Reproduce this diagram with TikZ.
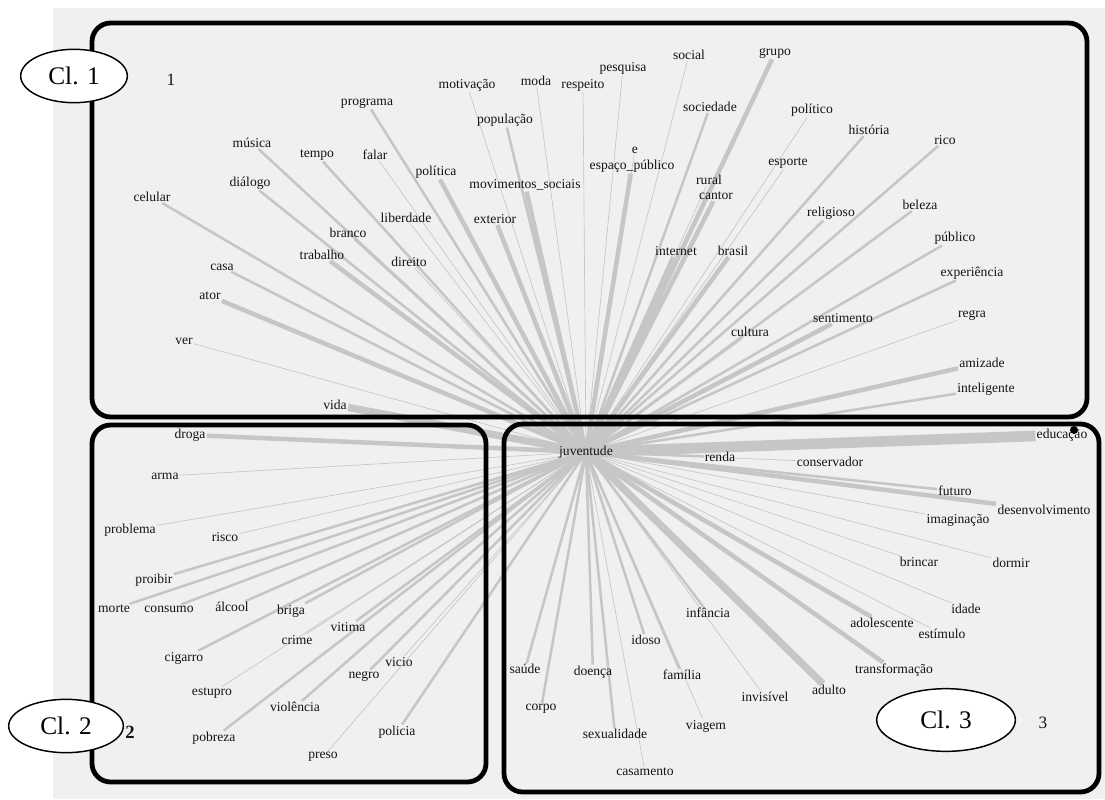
\documentclass[tikz,border=0pt]{standalone}
\usepackage{fontspec}
\setmainfont{Liberation Serif}
\usetikzlibrary{shapes.geometric}
\definecolor{panelgrey}{HTML}{F0F0F0}
\definecolor{linkgrey}{HTML}{C6C6C6}
\definecolor{wordink}{HTML}{141414}
\pgfdeclarelayer{back}
\pgfdeclarelayer{links}
\pgfsetlayers{back,links,main}

\begin{document}
\begin{tikzpicture}[
  x=0.75pt,
  y=-0.75pt,
  word/.style={font=\fontsize{10.2}{12}\selectfont, text=wordink, inner sep=0.8pt},
  faint link/.style={linkgrey, line width=0.5pt},
  mid link/.style={linkgrey, line width=1.9pt},
  heavy link/.style={linkgrey, line width=3.4pt},
  huge link/.style={linkgrey, line width=5.5pt},
  cluster/.style={black, line width=3.6pt, rounded corners=14pt},
  tag/.style={ellipse, draw=black, line width=1.1pt, fill=white, inner sep=0pt,
    font=\fontsize{19}{21}\selectfont},
  clnum/.style={font=\fontsize{13}{15}\selectfont, text=wordink}
]
  \useasboundingbox (0,0) rectangle (1105,799);
  \begin{pgfonlayer}{back}
    \fill[panelgrey] (53,8) rectangle (1105,799);
  \end{pgfonlayer}

  % ---- hub -------------------------------------------------------------
  \node[word] (juv) at (586,452) {juventude};

  % ---- cluster 1 words -------------------------------------------------
  \node[word] (programa) at (367,103) {programa};
  \node[word] (motivacao) at (467,85) {motivação};
  \node[word] (moda) at (536,81) {moda};
  \node[word] (respeito) at (583,85) {respeito};
  \node[word] (pesquisa) at (623,68) {pesquisa};
  \node[word] (social) at (689,55) {social};
  \node[word] (grupo) at (775,53) {grupo};
  \node[word] (populacao) at (505,120) {população};
  \node[word] (sociedade) at (710,107) {sociedade};
  \node[word] (politico) at (812,110) {político};
  \node[word] (historia) at (869,130) {história};
  \node[word] (rico) at (945,140) {rico};
  \node[word] (musica) at (252,143) {música};
  \node[word] (tempo) at (317,155) {tempo};
  \node[word] (falar) at (375,155) {falar};
  \node[word] (politica) at (436,172) {política};
  \node[word] (eword) at (635,150) {e};
  \node[word] (espaco) at (632,166) {espaço\_público};
  \node[word] (movimentos) at (525,185) {movimentos\_sociais};
  \node[word] (rural) at (709,180) {rural};
  \node[word] (cantor) at (716,196) {cantor};
  \node[word] (esporte) at (788,163) {esporte};
  \node[word] (religioso) at (831,213) {religioso};
  \node[word] (beleza) at (920,205) {beleza};
  \node[word] (celular) at (152,197) {celular};
  \node[word] (dialogo) at (250,183) {diálogo};
  \node[word] (liberdade) at (406,218) {liberdade};
  \node[word] (exterior) at (495,219) {exterior};
  \node[word] (branco) at (348,233) {branco};
  \node[word] (trabalho) at (322,255) {trabalho};
  \node[word] (direito) at (409,262) {direito};
  \node[word] (internet) at (676,251) {internet};
  \node[word] (brasil) at (733,251) {brasil};
  \node[word] (publico) at (955,238) {público};
  \node[word] (casa) at (222,267) {casa};
  \node[word] (experiencia) at (972,273) {experiência};
  \node[word] (ator) at (210,296) {ator};
  \node[word] (ver) at (184,341) {ver};
  \node[word] (cultura) at (750,332) {cultura};
  \node[word] (sentimento) at (843,318) {sentimento};
  \node[word] (regra) at (972,315) {regra};
  \node[word] (amizade) at (982,363) {amizade};
  \node[word] (inteligente) at (986,389) {inteligente};
  \node[word] (vida) at (335,405) {vida};

  % ---- cluster 2 words -------------------------------------------------
  \node[word] (droga) at (190,435) {droga};
  \node[word] (arma) at (165,476) {arma};
  \node[word] (problema) at (130,530) {problema};
  \node[word] (risco) at (225,537) {risco};
  \node[word] (proibir) at (154,580) {proibir};
  \node[word] (morte) at (114,609) {morte};
  \node[word] (consumo) at (169,609) {consumo};
  \node[word] (alcool) at (232,607) {álcool};
  \node[word] (briga) at (291,611) {briga};
  \node[word] (vitima) at (348,627) {vitima};
  \node[word] (crime) at (297,640) {crime};
  \node[word] (cigarro) at (184,658) {cigarro};
  \node[word] (vicio) at (399,662) {vicio};
  \node[word] (negro) at (364,676) {negro};
  \node[word] (estupro) at (212,693) {estupro};
  \node[word] (violencia) at (295,707) {violência};
  \node[word] (pobreza) at (214,738) {pobreza};
  \node[word] (policia) at (397,732) {policia};
  \node[word] (preso) at (323,757) {preso};

  % ---- cluster 3 words -------------------------------------------------
  \node[word] (educacao) at (1062,435) {educação};
  \node[word] (renda) at (720,457) {renda};
  \node[word] (conservador) at (830,462) {conservador};
  \node[word] (futuro) at (955,491) {futuro};
  \node[word] (desenvolvimento) at (1044,510) {desenvolvimento};
  \node[word] (imaginacao) at (958,520) {imaginação};
  \node[word] (brincar) at (919,562) {brincar};
  \node[word] (dormir) at (1011,563) {dormir};
  \node[word] (idade) at (966,609) {idade};
  \node[word] (adolescente) at (882,623) {adolescente};
  \node[word] (estimulo) at (942,634) {estímulo};
  \node[word] (infancia) at (708,613) {infância};
  \node[word] (idoso) at (646,640) {idoso};
  \node[word] (saude) at (525,669) {saúde};
  \node[word] (doenca) at (593,672) {doença};
  \node[word] (familia) at (682,675) {família};
  \node[word] (transformacao) at (894,670) {transformação};
  \node[word] (invisivel) at (765,697) {invisível};
  \node[word] (adulto) at (829,690) {adulto};
  \node[word] (corpo) at (541,709) {corpo};
  \node[word] (viagem) at (706,726) {viagem};
  \node[word] (sexualidade) at (615,734) {sexualidade};
  \node[word] (casamento) at (645,772) {casamento};

  % ---- links from the hub ----------------------------------------------
  \begin{pgfonlayer}{links}
    \foreach \w in {motivacao, moda, respeito, pesquisa, social, politico,
        falar, eword, rural, esporte, liberdade, direito, ver, regra,
        arma, problema, risco, crime, vicio, estupro, preso,
        conservador, imaginacao, brincar, dormir, idade, estimulo,
        invisivel, viagem, casamento}
      \draw[faint link] (juv.center) -- (\w);
    \foreach \w in {programa, populacao, sociedade, historia, rico, musica,
        tempo, religioso, beleza, celular, dialogo, branco, publico, casa,
        experiencia, cultura, inteligente,
        proibir, morte, consumo, alcool, briga, vitima, cigarro, negro,
        violencia, pobreza, policia,
        renda, futuro, infancia, idoso, saude, doenca, familia, corpo,
        sexualidade}
      \draw[mid link] (juv.center) -- (\w);
    \foreach \w in {grupo, politica, espaco, movimentos, cantor, exterior,
        trabalho, internet, brasil, ator, sentimento, amizade, droga,
        desenvolvimento, adolescente, transformacao}
      \draw[heavy link] (juv.center) -- (\w);
    \foreach \w in {vida, adulto}
      \draw[huge link] (juv.center) -- (\w);
    \draw[linkgrey, line width=8pt] (juv.center) -- (educacao);
  \end{pgfonlayer}
  \fill[black] (1074,430) circle (3pt);

  % ---- cluster frames --------------------------------------------------
  \draw[cluster] (92,23) rectangle (1087,417);
  \draw[cluster] (92,425) rectangle (486,782);
  \draw[cluster] (504,424) rectangle (1099,792);

  % ---- cluster tags ----------------------------------------------------
  \node[tag, minimum width=80pt, minimum height=40pt] (cl1) at (74,76) {Cl. 1};
  \node[tag, minimum width=86pt, minimum height=40pt] (cl2) at (66,726) {Cl. 2};
  \node[tag, minimum width=104pt, minimum height=47pt] (cl3) at (946,720) {Cl. 3};
  \node[clnum] (n1) at (171,80) {1};
  \node[clnum, font=\fontsize{14}{16}\selectfont\bfseries] (n2) at (130,732) {2};
  \node[clnum] (n3) at (1043,723) {3};
\end{tikzpicture}
\end{document}
